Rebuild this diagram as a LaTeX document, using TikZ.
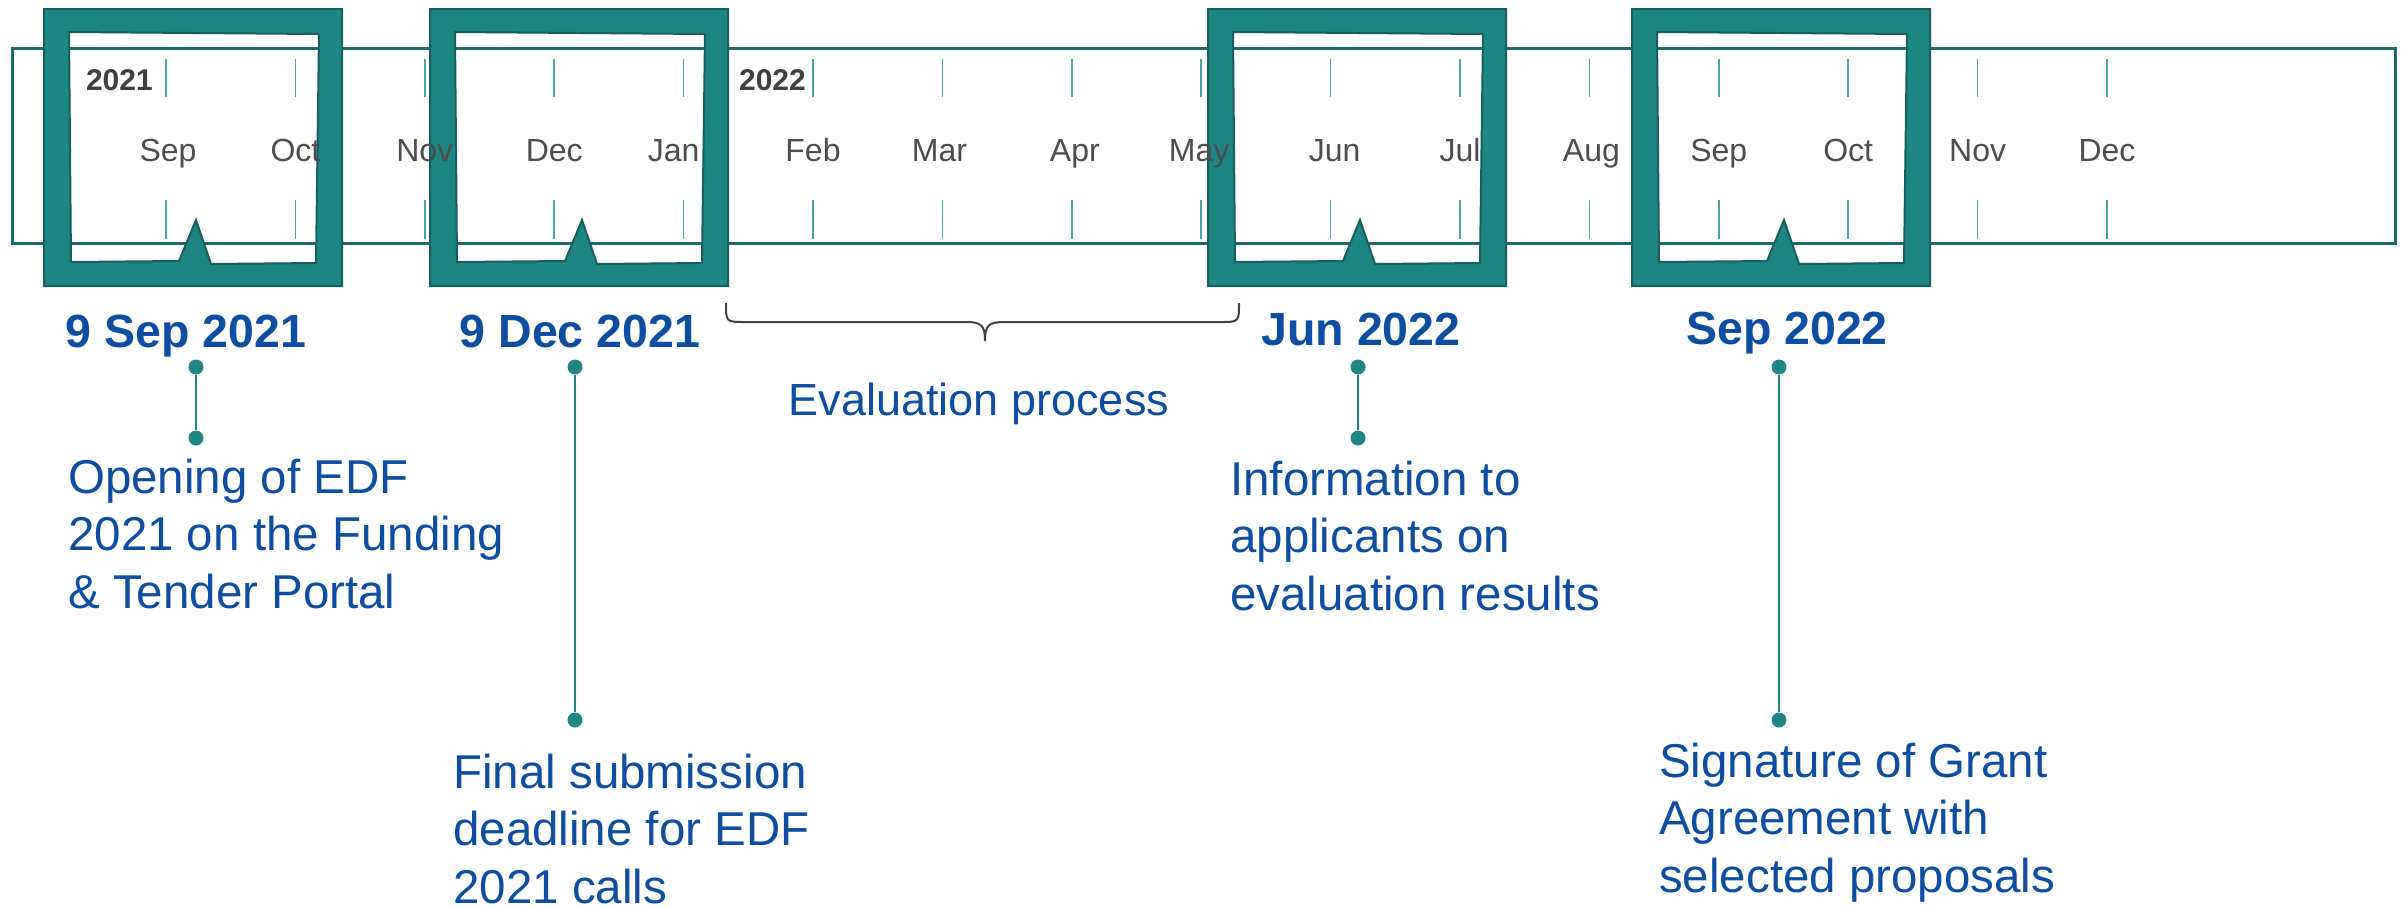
\documentclass[tikz,border=0pt]{standalone}
\usepackage{fontspec}
\setmainfont{Liberation Sans}
\definecolor{teal}{HTML}{1F8686}
\definecolor{tealdark}{HTML}{155F5F}
\definecolor{bandcol}{HTML}{1C6B6B}
\definecolor{tickcol}{HTML}{4AA5A5}
\definecolor{tlblue}{HTML}{0B4EA2}
\definecolor{monthgray}{HTML}{4D4D4D}
\definecolor{yeargray}{HTML}{404040}
\begin{document}
\begin{tikzpicture}[x=1pt,y=-1pt,
  bandline/.style={draw=bandcol,line width=3pt},
  tickline/.style={draw=tickcol,line width=1.6pt},
  month/.style={anchor=base,inner sep=0pt,text=monthgray,font=\fontsize{32}{38}\selectfont},
  year/.style={anchor=base east,inner sep=0pt,text=yeargray,font=\bfseries\fontsize{30}{36}\selectfont},
  tlframe/.style={fill=teal,draw=tealdark,line width=2pt,even odd rule},
  datelbl/.style={anchor=base,inner sep=0pt,text=tlblue,font=\bfseries\fontsize{46.5}{56}\selectfont},
  desc/.style={anchor=base west,inner sep=0pt,text=tlblue,font=\fontsize{47.5}{57.5}\selectfont},
  dot/.style={circle,fill=teal,inner sep=0pt,minimum size=15pt},
  conn/.style={draw=teal,line width=2.5pt},
  bracel/.style={draw=yeargray,line width=2pt}
]
\useasboundingbox (0,0) rectangle (2407,906);
\fill[white] (0,0) rectangle (2407,906);
% band
\draw[bandline] (12,48) rectangle (2395,243);
% ticks
\foreach \i in {0,...,15} {
  \pgfmathsetmacro\xx{166+129.4*\i}
  \draw[tickline] (\xx,59) -- (\xx,97);
  \draw[tickline] (\xx,200) -- (\xx,239);
}
% frames
\foreach \a in {196,582,1360,1784} {
  \begin{scope}[xshift=\a pt]
    \path[tlframe] (-152,9) rectangle (146,286)
      (-127,32) -- (123,34) -- (120,263) -- (15,264) -- (0,220) -- (-17,261) -- (-125,262) -- cycle;
  \end{scope}
}
% month and year labels (on top of frames)
\foreach \m/\off [count=\i from 0] in {Sep/2,Oct/0,Nov/0,Dec/0,Jan/-10,Feb/0,Mar/-3,Apr/3,May/-2,Jun/4,Jul/0,Aug/2,Sep/0,Oct/0,Nov/0,Dec/0} {
  \pgfmathsetmacro\xx{166+129.4*\i+\off}
  \node[month] (m\i) at (\xx,161) {\m};
}
\node[year] (y21) at (153,90) {2021};
\node[year] (y22) at (806,90) {2022};
% dates
\node[datelbl] (dt1) at (186,347) {9 Sep 2021};
\node[datelbl] (dt2) at (580,347) {9 Dec 2021};
\node[datelbl] (dt3) at (1361,345) {Jun 2022};
\node[datelbl] (dt4) at (1787,344) {Sep 2022};
% connectors
\node[dot] (d1a) at (196,367) {};
\node[dot] (d1b) at (196,438) {};
\node[dot] (d2a) at (575,367) {};
\node[dot] (d2b) at (575,720) {};
\node[dot] (d3a) at (1358,367) {};
\node[dot] (d3b) at (1358,438) {};
\node[dot] (d4a) at (1779,367) {};
\node[dot] (d4b) at (1779,720) {};
\draw[conn] (d1a) -- (d1b);
\draw[conn] (d2a) -- (d2b);
\draw[conn] (d3a) -- (d3b);
\draw[conn] (d4a) -- (d4b);
% descriptions
\node[desc] (t1) at (68,493) {\begin{tabular}[t]{@{}l@{}}Opening of EDF\\2021 on the Funding\\\& Tender Portal\end{tabular}};
\node[desc] (t2) at (453,788) {\begin{tabular}[t]{@{}l@{}}Final submission\\deadline for EDF\\2021 calls\end{tabular}};
\node[desc] (t3) at (1230,495) {\begin{tabular}[t]{@{}l@{}}Information to\\applicants on\\evaluation results\end{tabular}};
\node[desc] (t4) at (1659,777) {\begin{tabular}[t]{@{}l@{}}Signature of Grant\\Agreement with\\selected proposals\end{tabular}};
% brace
\draw[bracel] (726,303) .. controls (726,322) and (726,322) .. (745,322) -- (966,322)
  .. controls (982,322) and (985,326) .. (985,341)
  .. controls (985,326) and (988,322) .. (1004,322) -- (1220,322)
  .. controls (1239,322) and (1239,322) .. (1239,303);
\node[anchor=base,inner sep=0pt,text=tlblue,font=\fontsize{45}{54}\selectfont] (ev) at (979,415) {Evaluation process};
\end{tikzpicture}
\end{document}
